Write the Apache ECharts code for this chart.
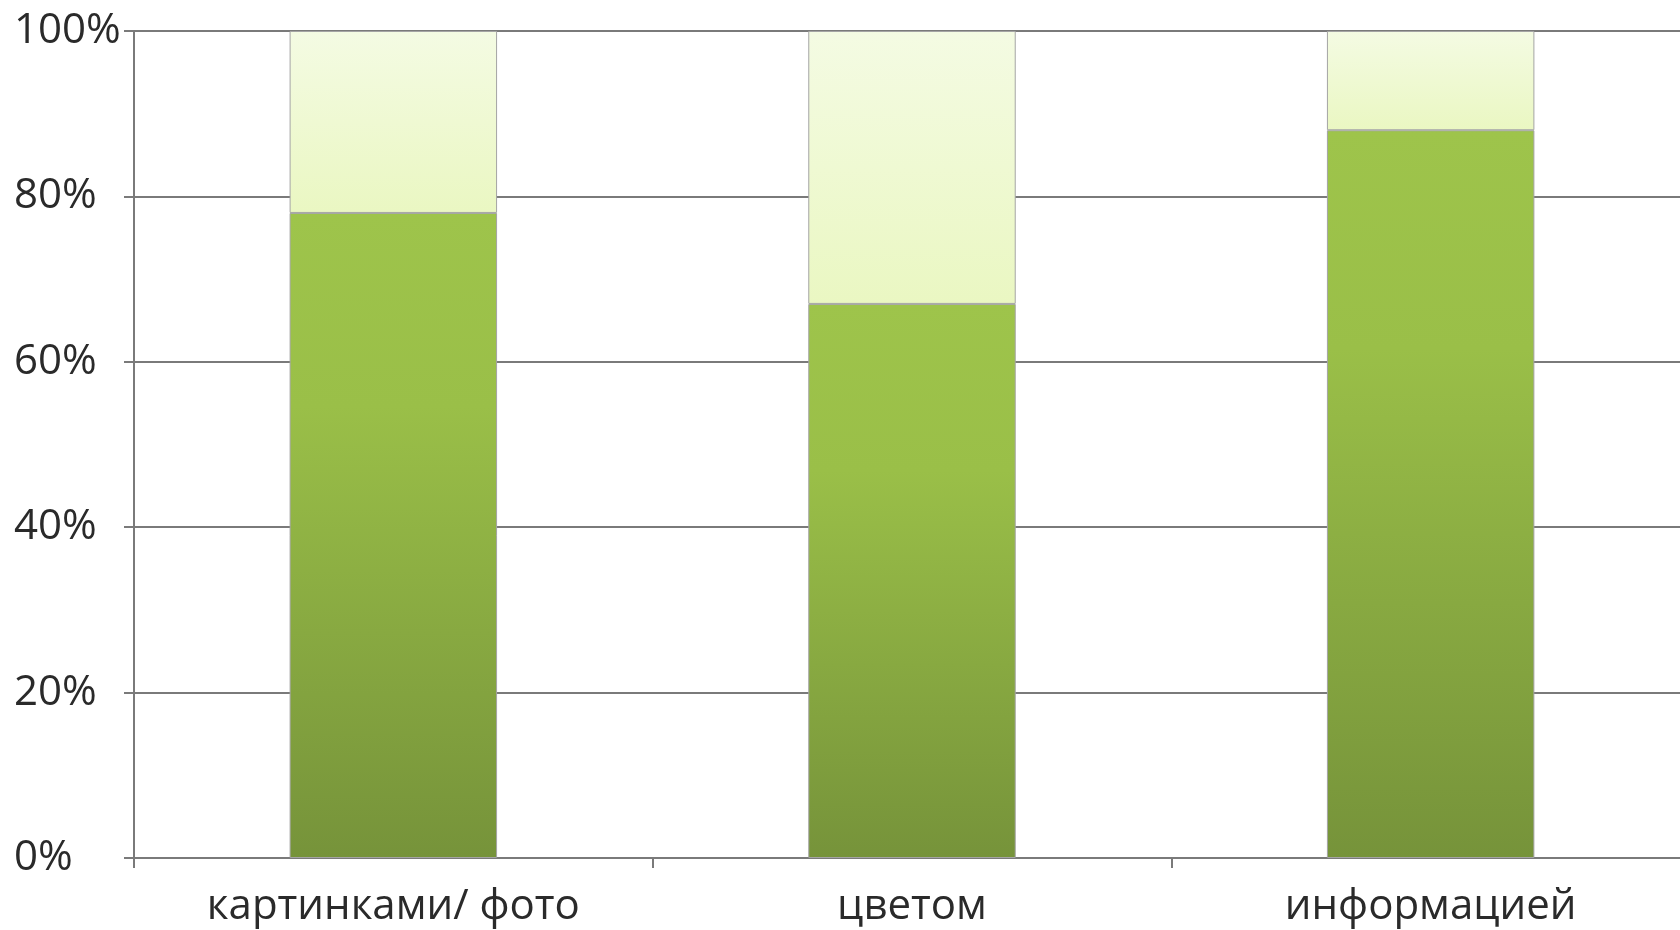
<!DOCTYPE html>
<html>
<head>
<meta charset="utf-8">
<style>
  html, body { margin: 0; padding: 0; background: #fff; }
  #chart { width: 1680px; height: 930px; }
</style>
<script src="https://cdn.jsdelivr.net/npm/echarts@6/dist/echarts.min.js"></script>
</head>
<body>
<div id="chart"></div>
<script>
// categories and shares (percent)
const categories = ['картинками/ фото', 'цветом', 'информацией']
const yesValues = [78, 67, 88]
const noValues = [22, 33, 12]

const chart = echarts.init(document.getElementById('chart'))

const darkGreen = new echarts.graphic.LinearGradient(0, 0, 0, 1, [
  { offset: 0, color: '#9ec44b' },
  { offset: 0.3, color: '#9abf48' },
  { offset: 1, color: '#76933a' }
])
const paleGreen = new echarts.graphic.LinearGradient(0, 0, 0, 1, [
  { offset: 0, color: '#f4fbe3' },
  { offset: 1, color: '#eaf7c2' }
])

const lineColor = '#7a7a7a'

const option = {
  animation: false,
  backgroundColor: '#fff',
  // plot runs past the right edge of the picture, like the original
  grid: { left: 134, width: 1556, top: 31, bottom: 72, outerBoundsMode: 'none', containLabel: false },
  xAxis: {
    type: 'category',
    data: categories,
    axisLine: { lineStyle: { color: lineColor, width: 2 } },
    axisTick: { show: true, length: 10, lineStyle: { color: lineColor, width: 2 } },
    axisLabel: {
      margin: 28,
      fontFamily: 'Open Sans',
      fontSize: 42,
      color: '#2a2a2a'
    }
  },
  yAxis: {
    type: 'value',
    min: 0,
    max: 100,
    interval: 20,
    axisLine: { show: true, lineStyle: { color: lineColor, width: 2 } },
    axisTick: { show: true, length: 10, lineStyle: { color: lineColor, width: 2 } },
    splitLine: { lineStyle: { color: lineColor, width: 2 } },
    axisLabel: {
      formatter: '{value}%',
      align: 'left',
      margin: 120,
      fontFamily: 'Open Sans',
      fontSize: 42,
      color: '#2a2a2a'
    }
  },
  series: [
    {
      name: 'yes',
      type: 'bar',
      stack: 'total',
      barWidth: '40%',
      data: yesValues,
      itemStyle: { color: darkGreen, borderColor: '#a4a4a4', borderWidth: 1 }
    },
    {
      name: 'no',
      type: 'bar',
      stack: 'total',
      data: noValues,
      itemStyle: { color: paleGreen, borderColor: '#a4a4a4', borderWidth: 1 }
    }
  ]
}

chart.setOption(option)
</script>
</body>
</html>
